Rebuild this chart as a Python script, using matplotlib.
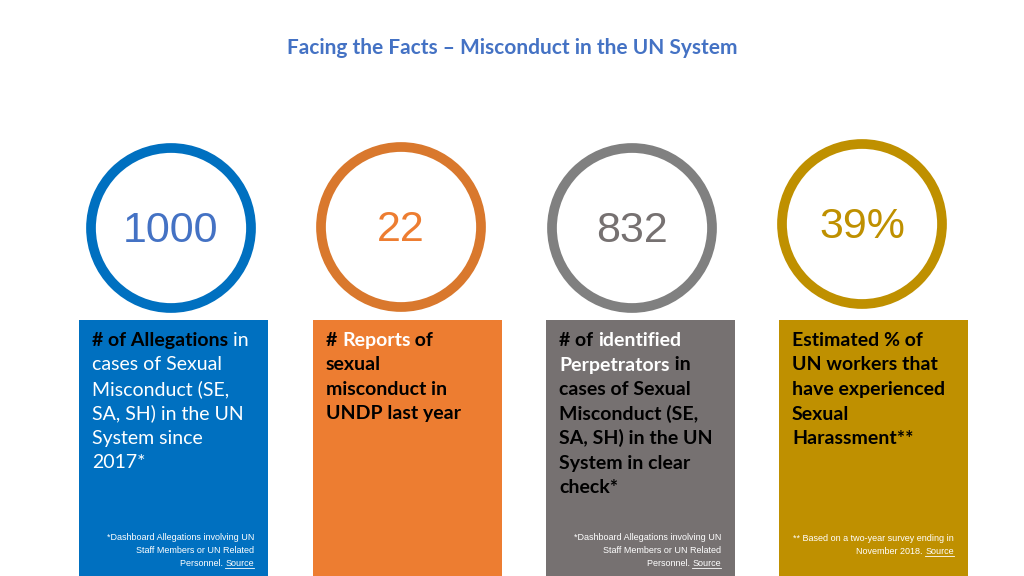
import matplotlib.pyplot as plt
from matplotlib.patches import Circle, Rectangle

# data
values = ['1000', '22', '832', '39%']
colors = ['#0070C0', '#ED7D31', '#767171', '#BF9000']
ring_colors = ['#0070C0', '#D9782D', '#808080', '#BF9000']
num_colors = ['#4472C4', '#ED7D31', '#767171', '#BF9000']
W, K = 'white', 'black'
card_text = [
    [[('# of Allegations', K, True), (' in', W, False)],
     [('cases of Sexual', W, False)],
     [('Misconduct (SE,', W, False)],
     [('SA, SH) in the UN', W, False)],
     [('System since', W, False)],
     [('2017*', W, False)]],
    [[('# ', K, True), ('Reports', W, True), (' of', K, True)],
     [('sexual', K, True)],
     [('misconduct in', K, True)],
     [('UNDP last year', K, True)]],
    [[('# of ', K, True), ('identified', W, True)],
     [('Perpetrators', W, True), (' in', K, True)],
     [('cases of Sexual', K, True)],
     [('Misconduct (SE,', K, True)],
     [('SA, SH) in the UN', K, True)],
     [('System in clear', K, True)],
     [('check*', K, True)]],
    [[('Estimated % of', K, True)],
     [('UN workers that', K, True)],
     [('have experienced', K, True)],
     [('Sexual', K, True)],
     [('Harassment**', K, True)]],
]
foot_a = [[('*Dashboard Allegations involving UN', False)],
          [('Staff Members or UN Related', False)],
          [('Personnel. ', False), ('Source', True)]]
foot_b = [[('** Based on a two-year survey ending in', False)],
          [('November 2018. ', False), ('Source', True)]]
footnotes = [foot_a, None, foot_a, foot_b]

card_x = [79, 313, 546, 779]
card_w = 189
centers = [(171, 228), (401, 227), (632, 228), (862, 224)]

fig = plt.figure(figsize=(10.24, 5.76), dpi=100)
ax = fig.add_axes([0, 0, 1, 1])
ax.set_xlim(0, 1024)
ax.set_ylim(576, 0)
ax.axis('off')
r = fig.canvas.get_renderer()

def width(s, **kw):
    t = ax.text(0, 0, s, **kw)
    w = t.get_window_extent(renderer=r).width
    t.remove()
    return w

def segs(x, y, parts, ha='left'):
    total = sum(width(p[0], **p[1]) for p in parts)
    if ha == 'right':
        x -= total
    for s, kw in parts:
        ax.text(x, y, s, va='baseline', ha='left', **kw)
        w = width(s, **kw)
        if kw.get('underline'):
            pass
        x += w
    return x

ax.text(512, 48, 'Facing the Facts \u2013 Misconduct in the UN System', ha='center', va='center',
        fontsize=15, fontweight='bold', color='#4472C4', family='Lato')

for i in range(4):
    cx, cy = centers[i]
    ax.add_patch(Circle((cx, cy), 80, fill=False, lw=7, ec=ring_colors[i]))
    ax.text(cx, cy + 3, values[i], ha='center', va='center', fontsize=31,
            color=num_colors[i], family='Liberation Sans')
    x0 = card_x[i]
    ax.add_patch(Rectangle((x0, 320), card_w, 256, color=colors[i], lw=0))
    y = 346
    for line in card_text[i]:
        parts = [(s, dict(color=c, fontweight='bold' if b else 'normal', fontsize=14, family='Lato'))
                 for s, c, b in line]
        segs(x0 + 13, y, parts)
        y += 24.5
    if footnotes[i]:
        fy = 540 if len(footnotes[i]) == 3 else 541
        for line in footnotes[i]:
            xr = x0 + card_w - 14
            parts = [(s, dict(color='white', fontsize=6.5, family='Liberation Sans')) for s, u in line]
            total = sum(width(p[0], **p[1]) for p in parts)
            xs = xr - total
            for (s, u), p in zip(line, parts):
                w = width(s, **p[1])
                ax.text(xs, fy, s, va='baseline', **p[1])
                if u:
                    ax.plot([xs, xs + w], [fy + 1.5, fy + 1.5], color='white', lw=0.6)
                xs += w
            fy += 13

fig.savefig('out.png', dpi=100)
